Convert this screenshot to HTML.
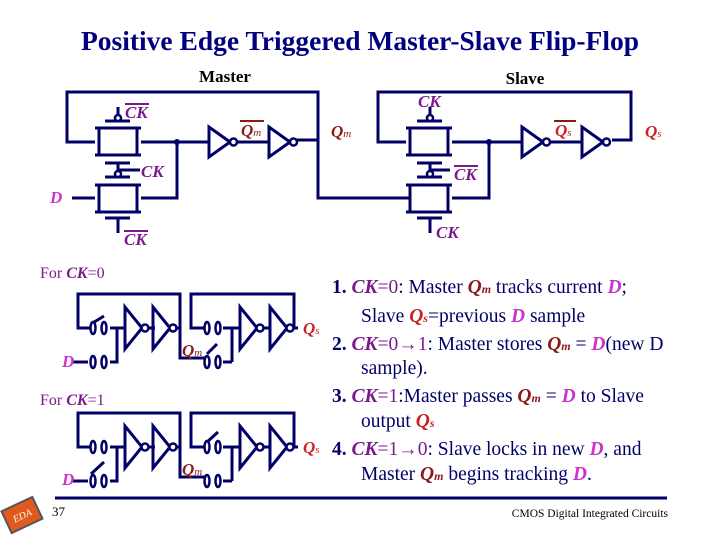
<!DOCTYPE html>
<html><head><meta charset="utf-8"><style>
html,body{margin:0;padding:0;background:#fff;}
svg{display:block;font-family:"Liberation Serif",serif;}
</style></head><body>
<svg width="720" height="540" viewBox="0 0 720 540" xmlns="http://www.w3.org/2000/svg">
<defs>
<g id="inv"><path d="M0,-15 L0,15 L21,0 Z" fill="none" stroke="#000066" stroke-width="3"/><circle cx="24.5" cy="0" r="3.5" fill="#fff" stroke="#000066" stroke-width="2.5"/></g>
<g id="sinv"><path d="M0,-21 L0,21 L17,0 Z" fill="none" stroke="#000066" stroke-width="3"/><circle cx="20" cy="0" r="3.5" fill="#fff" stroke="#000066" stroke-width="2.5"/></g>
<g id="sw"><ellipse cx="-5" cy="0" rx="2.5" ry="6" fill="#fff" stroke="#000066" stroke-width="2.5"/><ellipse cx="6" cy="0" rx="2.5" ry="6" fill="#fff" stroke="#000066" stroke-width="2.5"/></g>
<g id="tg"><rect x="4" y="0" width="38" height="27" fill="none" stroke="#000066" stroke-width="3"/><line x1="0" y1="0" x2="46" y2="0" stroke="#000066" stroke-width="3"/><line x1="0" y1="27" x2="46" y2="27" stroke="#000066" stroke-width="3"/></g>
</defs>
<text x="360" y="50" text-anchor="middle" font-size="27.5" font-weight="bold" fill="#000080">Positive Edge Triggered Master-Slave Flip-Flop</text>
<text x="225" y="82" text-anchor="middle" font-size="17" font-weight="bold">Master</text>
<text x="525" y="84" text-anchor="middle" font-size="17" font-weight="bold">Slave</text>

<g stroke="#000066" stroke-width="3" fill="none">
<path d="M95,142 H67 V92 H318 V198 H410"/>
<path d="M141,142 H209"/>
<path d="M72,198 H95"/>
<path d="M141,198 H177 V142"/>
<path d="M237,142 H269"/>
<path d="M297,140 H318"/>
<path d="M105,121 H130 M118,121 V107"/>
<path d="M105,163 H130 M105,177 H130 M118,163 V177 M118,170 H140"/>
<path d="M105,218 H130 M118,218 V233"/>
<path d="M406,142 H378 V92 H631 V140 H612"/>
<path d="M452,142 H522"/>
<path d="M452,198 H489 V142"/>
<path d="M550,142 H582"/>
<path d="M417,121 H442 M430,121 V107"/>
<path d="M417,163 H442 M417,177 H442 M430,163 V177 M430,170 H450"/>
<path d="M417,218 H442 M430,218 V233"/>
</g>
<use href="#tg" x="95" y="128"/><use href="#tg" x="95" y="185"/>
<use href="#tg" x="406" y="128"/><use href="#tg" x="406" y="185"/>
<g fill="#fff" stroke="#000066" stroke-width="2.5">
<circle cx="118" cy="118" r="3"/><circle cx="118" cy="174" r="3"/>
<circle cx="430" cy="118" r="3"/><circle cx="430" cy="174" r="3"/>
</g>
<circle cx="177" cy="142" r="3" fill="#000066"/><circle cx="489" cy="142" r="3" fill="#000066"/>
<use href="#inv" x="209" y="142"/><use href="#inv" x="269" y="142"/>
<use href="#inv" x="522" y="142"/><use href="#inv" x="582" y="142"/>
<g font-style="italic" font-weight="bold" font-size="17">
<text x="125" y="118" fill="#7a1a8a">CK</text><line x1="125" y1="104" x2="149" y2="104" stroke="#7a1a8a" stroke-width="2"/>
<text x="141" y="177" fill="#7a1a8a">CK</text>
<text x="124" y="245" fill="#7a1a8a">CK</text><line x1="124" y1="231" x2="148" y2="231" stroke="#7a1a8a" stroke-width="2"/>
<text x="418" y="107" fill="#7a1a8a">CK</text>
<text x="454" y="180" fill="#7a1a8a">CK</text><line x1="454" y1="166" x2="478" y2="166" stroke="#7a1a8a" stroke-width="2"/>
<text x="436" y="238" fill="#7a1a8a">CK</text>
<text x="50" y="203" fill="#cc33cc">D</text>
<text x="241" y="136" fill="#8b1a1a">Q<tspan font-size="11" font-weight="normal">m</tspan></text><line x1="240" y1="121" x2="264" y2="121" stroke="#8b1a1a" stroke-width="2"/>
<text x="331" y="137" fill="#8b1a1a">Q<tspan font-size="11" font-weight="normal">m</tspan></text>
<text x="555" y="136" fill="#cc2222">Q<tspan font-size="11" font-weight="normal">s</tspan></text><line x1="554" y1="121" x2="576" y2="121" stroke="#8b1a1a" stroke-width="2"/>
<text x="645" y="137" fill="#cc2222">Q<tspan font-size="11" font-weight="normal">s</tspan></text>
</g>

<text x="40" y="278" font-size="16" fill="#7a1a8a">For <tspan font-style="italic" font-weight="bold">CK</tspan>=0</text>
<text x="40" y="405" font-size="16" fill="#7a1a8a">For <tspan font-style="italic" font-weight="bold">CK</tspan>=1</text>
<g id="row1">
<g stroke="#000066" stroke-width="3" fill="none">
<path d="M90,328 H78 V294 H180 V328 H175"/>
<path d="M72,362 H88 M110,362 H117 V328 H110 M117,328 H125"/>
<path d="M147,328 H155"/>
<path d="M180,328 V358 H205 M223,362 H232"/>
<path d="M205,328 H191 V294 H294 V328 H290"/>
<path d="M223,328 H240 M232,328 V362"/>
<path d="M262,328 H270"/>
<path d="M289,328 H298"/>
</g>
</g>
<g stroke="#000066" stroke-width="3" fill="none">
<line x1="91" y1="324" x2="104" y2="316"/>
<line x1="207" y1="354" x2="217" y2="344"/>
</g>
<use href="#sw" x="98" y="328"/><use href="#sw" x="98" y="362"/>
<use href="#sw" x="212" y="328"/><use href="#sw" x="212" y="362"/>
<use href="#sinv" x="125" y="328"/><use href="#sinv" x="153" y="328"/>
<use href="#sinv" x="240" y="328"/><use href="#sinv" x="270" y="328"/>
<g font-style="italic" font-weight="bold" font-size="17">
<text x="62" y="367" fill="#cc33cc">D</text>
<text x="182" y="356" fill="#8b1a1a">Q<tspan font-size="11" font-weight="normal">m</tspan></text>
<text x="303" y="334" fill="#cc2222">Q<tspan font-size="11" font-weight="normal">s</tspan></text>
</g>
<g transform="translate(0,119)">
<use href="#row1"/>
</g>
<g stroke="#000066" stroke-width="3" fill="none">
<line x1="91" y1="474" x2="104" y2="462"/>
<line x1="206" y1="443" x2="218" y2="432"/>
</g>
<use href="#sw" x="98" y="447"/><use href="#sw" x="98" y="481"/>
<use href="#sw" x="212" y="447"/><use href="#sw" x="212" y="481"/>
<use href="#sinv" x="125" y="447"/><use href="#sinv" x="153" y="447"/>
<use href="#sinv" x="240" y="447"/><use href="#sinv" x="270" y="447"/>
<g font-style="italic" font-weight="bold" font-size="17">
<text x="62" y="485" fill="#cc33cc">D</text>
<text x="182" y="475" fill="#8b1a1a">Q<tspan font-size="11" font-weight="normal">m</tspan></text>
<text x="303" y="453" fill="#cc2222">Q<tspan font-size="11" font-weight="normal">s</tspan></text>
</g>

<g font-size="19.5" fill="#000066">
<text x="332" y="293"><tspan font-weight="bold">1. </tspan><tspan fill="#7a1a8a" font-style="italic" font-weight="bold">CK</tspan><tspan fill="#7a1a8a">=0</tspan>: Master <tspan fill="#8b1a1a" font-style="italic" font-weight="bold">Q<tspan font-size="12">m</tspan></tspan> tracks current <tspan fill="#cc33cc" font-style="italic" font-weight="bold">D</tspan>;</text>
<text x="361" y="322">Slave <tspan fill="#cc2222" font-style="italic" font-weight="bold">Q<tspan font-size="12">s</tspan></tspan>=previous <tspan fill="#cc33cc" font-style="italic" font-weight="bold">D</tspan> sample</text>
<text x="332" y="350"><tspan font-weight="bold">2. </tspan><tspan fill="#7a1a8a" font-style="italic" font-weight="bold">CK</tspan><tspan fill="#7a1a8a">=0→1</tspan>: Master stores <tspan fill="#8b1a1a" font-style="italic" font-weight="bold">Q<tspan font-size="12">m</tspan></tspan> = <tspan fill="#cc33cc" font-style="italic" font-weight="bold">D</tspan>(new D</text>
<text x="361" y="374">sample).</text>
<text x="332" y="402"><tspan font-weight="bold">3. </tspan><tspan fill="#7a1a8a" font-style="italic" font-weight="bold">CK</tspan><tspan fill="#7a1a8a">=1</tspan>:Master passes <tspan fill="#8b1a1a" font-style="italic" font-weight="bold">Q<tspan font-size="12">m</tspan></tspan> = <tspan fill="#cc33cc" font-style="italic" font-weight="bold">D</tspan> to Slave</text>
<text x="361" y="427">output <tspan fill="#cc2222" font-style="italic" font-weight="bold">Q<tspan font-size="12">s</tspan></tspan></text>
<text x="332" y="455"><tspan font-weight="bold">4. </tspan><tspan fill="#7a1a8a" font-style="italic" font-weight="bold">CK</tspan><tspan fill="#7a1a8a">=1→0</tspan>: Slave locks in new <tspan fill="#cc33cc" font-style="italic" font-weight="bold">D</tspan>, and</text>
<text x="361" y="480">Master <tspan fill="#8b1a1a" font-style="italic" font-weight="bold">Q<tspan font-size="12">m</tspan></tspan> begins tracking <tspan fill="#cc33cc" font-style="italic" font-weight="bold">D</tspan>.</text>
</g>

<line x1="55" y1="498" x2="667" y2="498" stroke="#000066" stroke-width="3"/>
<text x="52" y="516" font-size="13">37</text>
<text x="668" y="517" font-size="11.5" text-anchor="end">CMOS Digital Integrated Circuits</text>
<g transform="translate(22,515) rotate(-25)">
<rect x="-17" y="-12" width="34" height="24" fill="#e05a20" stroke="#555" stroke-width="2"/>
<text x="0" y="4" font-size="10" fill="#ffd" text-anchor="middle" font-style="italic">EDA</text>
</g>
</svg>
</body></html>
